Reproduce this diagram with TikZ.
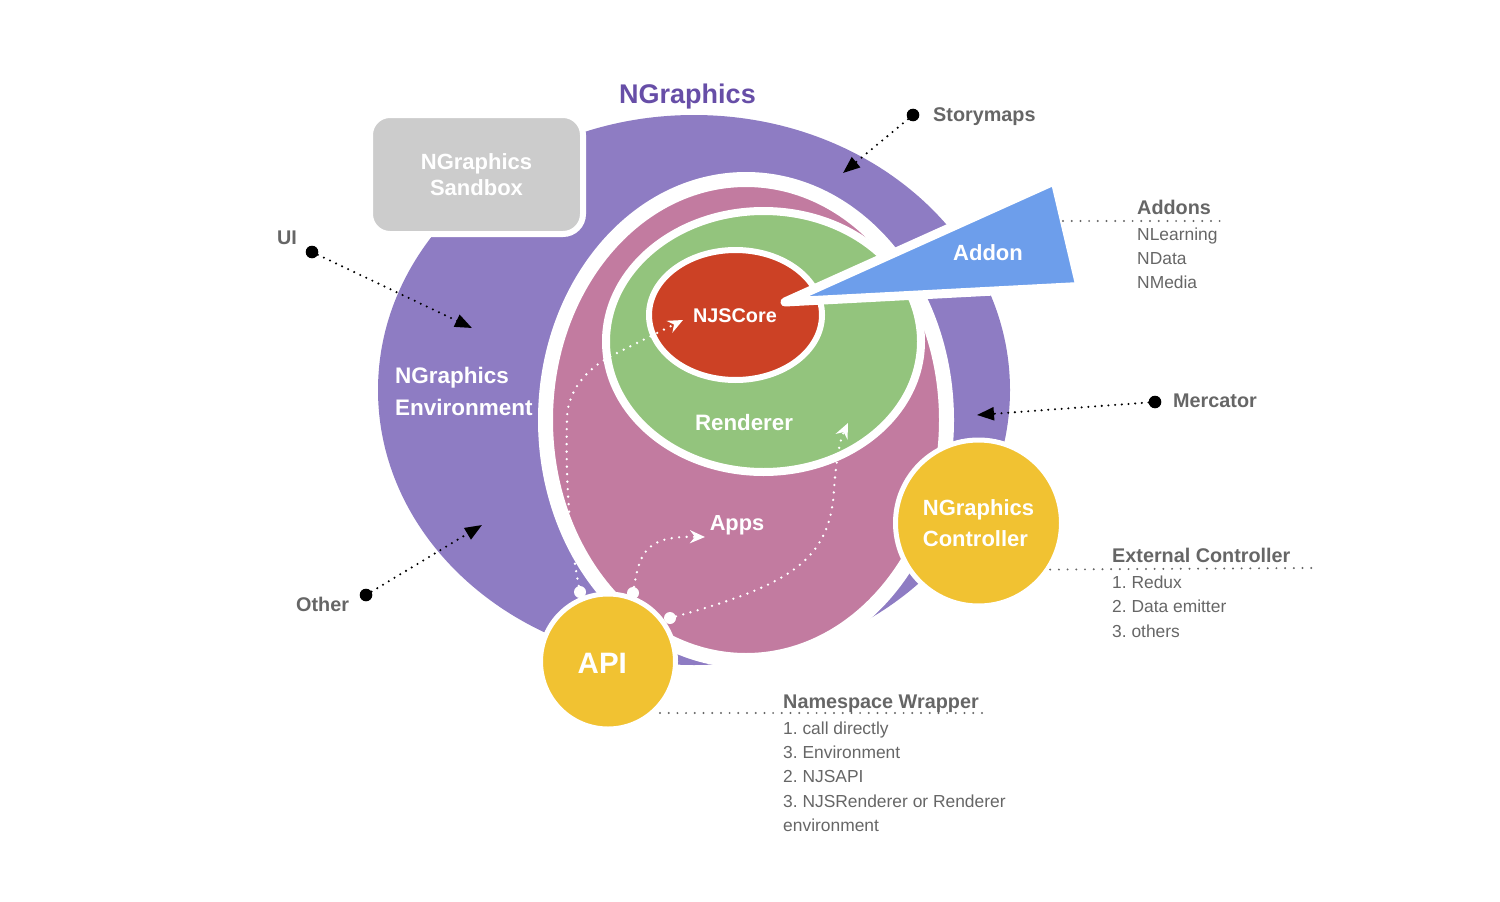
\documentclass[tikz,border=0pt]{standalone}
\usepackage{fontspec}
\setmainfont{Liberation Sans}
\usetikzlibrary{shapes.geometric,arrows.meta}

\definecolor{envpurple}{HTML}{8E7CC3}
\definecolor{titlepurple}{HTML}{674EA7}
\definecolor{apppink}{HTML}{C27BA0}
\definecolor{rendgreen}{HTML}{93C47D}
\definecolor{corered}{HTML}{CC4125}
\definecolor{addonblue}{HTML}{6D9EEB}
\definecolor{ctrlyellow}{HTML}{F1C232}
\definecolor{boxgray}{HTML}{CCCCCC}
\definecolor{txtgray}{HTML}{666666}

\begin{document}
\frenchspacing
\begin{tikzpicture}[x=1pt,y=-1pt,
  blob/.style={ellipse, inner sep=0pt},
  wtext/.style={text=white, inner sep=0pt, font=\bfseries\fontsize{#1}{1.4\dimexpr#1pt\relax}\selectfont},
  glabel/.style={text=txtgray, inner sep=0pt, anchor=base west, font=\bfseries\fontsize{19.8}{24}\selectfont},
  glist/.style={text=txtgray, inner sep=0pt, anchor=north west, align=left, font=\fontsize{17.4}{24.3}\selectfont},
  pin/.style={circle, fill=black, minimum size=12.6pt, inner sep=0pt},
  port/.style={circle, fill=white, minimum size=12pt, inner sep=0pt},
  feed/.style={black, line width=2.3pt, line cap=round, dash pattern=on 0pt off 6.7pt,
    -{Triangle[length=17pt,width=13pt]}},
  flow/.style={white, line width=2.6pt, line cap=round, dash pattern=on 0pt off 7.5pt,
    -{Stealth[length=15pt,width=13pt,inset=5pt]}},
  leader/.style={txtgray, line width=2.2pt, line cap=round, dash pattern=on 0pt off 8.7pt},
]
\useasboundingbox (0,0) rectangle (1500,902);

% outer environment disc
\node[blob, fill=envpurple, minimum width=632pt, minimum height=550pt] (env) at (694,390) {};

% sandbox box
\node[rectangle, rounded corners=20pt, fill=boxgray, draw=white, line width=6pt,
      minimum width=213pt, minimum height=119pt, inner sep=0pt, align=center,
      text=white, font=\bfseries\fontsize{22}{26.7}\selectfont] (sandbox) at (476.5,174.5) {NGraphics\\Sandbox};

% apps, renderer, core
\node[blob, fill=apppink, minimum width=401pt, minimum height=481pt] (apps) at (746,420) {};
\node[blob, fill=rendgreen, draw=white, line width=8pt, minimum width=315pt, minimum height=261pt] (renderer) at (763.5,341.5) {};
\draw[white, line width=15pt] (apps.center) ellipse [x radius=200.5pt, y radius=240.5pt];
\node[blob, fill=corered, draw=white, line width=6pt, minimum width=173pt, minimum height=130pt] (core) at (735.5,315) {};

% addon wedge
\path[fill=addonblue, draw=white, line width=9pt, line join=round]
  (785,302) coordinate (addontip) -- (1055,180.5) -- (1080,286.5) -- cycle;

% controller and API
\node[circle, fill=ctrlyellow, draw=white, line width=5pt, minimum size=166pt, inner sep=0pt,
      align=left, text=white, font=\bfseries\fontsize{22}{31.7}\selectfont] (ctrl) at (978.5,523) {NGraphics\\Controller};
\node[circle, fill=ctrlyellow, draw=white, line width=5pt, minimum size=135pt, inner sep=0pt] (api) at (608,661.5) {};

% API call paths
\node[port] (p1) at (580,592) {};
\node[port] (p2) at (633,593) {};
\node[port] (p3) at (670,618) {};
\coordinate (coretip) at (683,320);
\coordinate (appstip) at (705,537);
\coordinate (rendtip) at (848,423);
\draw[flow] (p1) .. controls (566,520) and (566,450) .. (567,420)
  .. controls (567,385) and (595,364) .. (613,355) -- (coretip);
\draw[flow] (p2) .. controls (640,550) and (648,536) .. (appstip);
\draw[flow] (p3) .. controls (790,585) and (830,560) .. (834,490)
  .. controls (836,460) and (840,440) .. (rendtip);

% external inputs
\node[pin] (smpin) at (913,115) {};
\node[pin] (uipin) at (312,252) {};
\node[pin] (otherpin) at (366,595) {};
\node[pin] (mercpin) at (1155,402) {};
\coordinate (smtip) at (843,173);
\coordinate (uitip) at (472,328);
\coordinate (othertip) at (482,525);
\coordinate (merctip) at (977,415);
\draw[feed] (smpin) -- (smtip);
\draw[feed] (uipin) -- (uitip);
\draw[feed] (otherpin) -- (othertip);
\draw[feed] (mercpin) -- (merctip);

\node[glabel] (smlabel) at (933,121) {Storymaps};
\node[glabel] (uilabel) at (277,244) {UI};
\node[glabel] (otherlabel) at (296,611.7) {Other};
\node[glabel] (merclabel) at (1173,407.7) {Mercator};

% title and layer labels
\node[text=titlepurple, inner sep=0pt, anchor=base, font=\bfseries\fontsize{27}{32}\selectfont] (title) at (687.5,103.5) {NGraphics};
\node[wtext=22.5, anchor=west, align=left, font=\bfseries\fontsize{22.5}{31.7}\selectfont] (envlabel) at (395,391.2) {NGraphics\\Environment};
\node[wtext=19.8, anchor=base] (corelabel) at (735,322.7) {NJSCore};
\node[wtext=22.3, anchor=base] (rendlabel) at (744,430.7) {Renderer};
\node[wtext=22, anchor=base] (addonlabel) at (988,260.7) {Addon};
\node[wtext=21.8, anchor=base] (appslabel) at (737,530) {Apps};
\node[wtext=29.5, anchor=base] (apilabel) at (602.3,673.3) {API};

% side notes
\coordinate (addonedge) at (1063,221);
\coordinate (addonend) at (1223,221);
\coordinate (ctrlend) at (1315,568);
\coordinate (apiedge) at (660,713);
\coordinate (apiend) at (987,713);
\draw[leader] (addonedge) -- (addonend);
\draw[leader] (ctrl.-33) -- (ctrlend);
\draw[leader] (apiedge) -- (apiend);

\node[glabel] (addonshead) at (1137,214) {Addons};
\node[glist] (addonslist) at (1137,227.5) {NLearning\\NData\\NMedia};
\node[glabel] (exthead) at (1112,562.7) {External Controller};
\node[glist] (extlist) at (1112,575.8) {1. Redux\\2. Data emitter\\3. others};
\node[glabel] (nshead) at (783,708.3) {Namespace Wrapper};
\node[glist] (nslist) at (783,721.5) {1. call directly\\3. Environment\\2. NJSAPI\\3. NJSRenderer or Renderer\\environment};
\end{tikzpicture}
\end{document}
